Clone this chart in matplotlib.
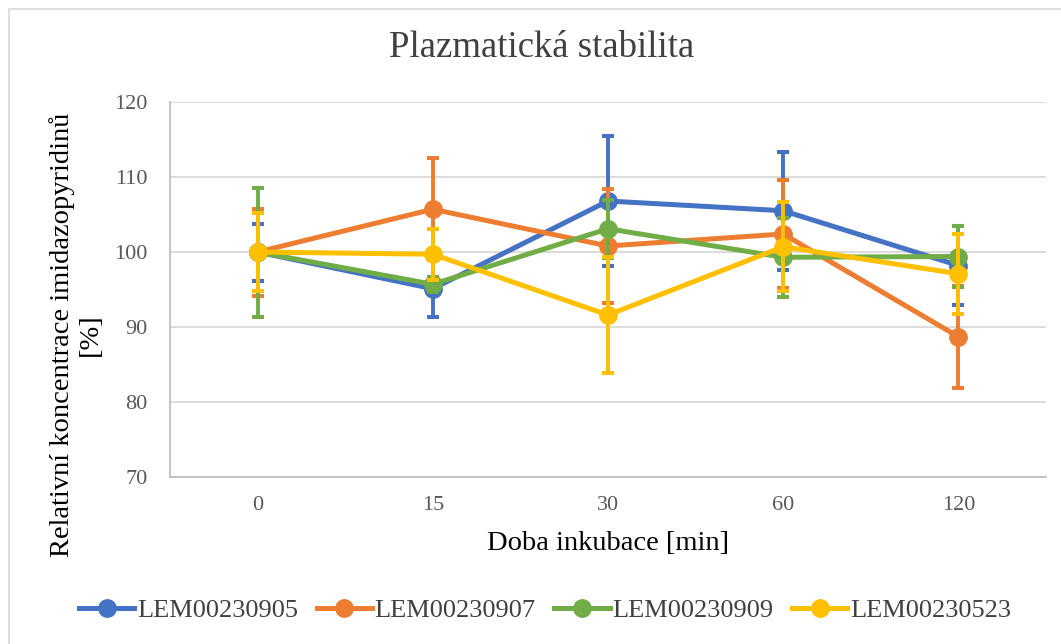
import matplotlib
matplotlib.use('Agg')
import matplotlib.pyplot as plt
from matplotlib.lines import Line2D
from matplotlib.patches import Rectangle
import numpy as np

categories = ['0', '15', '30', '60', '120']
series_names = ['LEM00230905', 'LEM00230907', 'LEM00230909', 'LEM00230523']
lem905 = [100, 95.1, 106.8, 105.5, 98.2]
lem905_err = [3.8, 3.8, 8.7, 7.9, 5.3]
lem907 = [100, 105.7, 100.8, 102.4, 88.7]
lem907_err = [5.8, 6.8, 7.6, 7.2, 6.8]
lem909 = [100, 95.7, 103.1, 99.3, 99.4]
lem909_err = [8.6, 1.0, 3.9, 5.3, 4.1]
lem523 = [100, 99.7, 91.6, 100.7, 97.1]
lem523_err = [5.2, 3.4, 7.7, 5.9, 5.3]
yticks = [70, 80, 90, 100, 110, 120]

values = [lem905, lem907, lem909, lem523]
errors = [lem905_err, lem907_err, lem909_err, lem523_err]
colors = ['#4472C4', '#ED7D31', '#70AD47', '#FFC000']

plt.rcParams['font.family'] = ['Liberation Serif', 'DejaVu Serif']

W, H = 1061, 644
fig = plt.figure(figsize=(W / 100, H / 100), dpi=100)
fig.patch.set_facecolor('white')

# chart-area border (top/left visible)
fig.patches.append(Rectangle((9 / W, -0.05), 1.2, 1 - 9 / H + 0.05, transform=fig.transFigure,
                             fill=False, edgecolor='#D9D9D9', linewidth=1.2))

ax = fig.add_axes([170 / W, 1 - 477 / H, (1046 - 170) / W, (477 - 102) / H])
x = np.arange(len(categories))

handles = []
for i, (vals, errs, col, name) in enumerate(zip(values, errors, colors, series_names)):
    ax.errorbar(x, vals, yerr=errs, fmt='none', ecolor=col, elinewidth=2.8,
                capsize=4.5, capthick=2.9, zorder=3 + i * 2)
    ax.plot(x, vals, '-o', color=col, lw=3.6, markersize=12.5, zorder=4 + i * 2)
    handles.append(Line2D([0], [0], color=col, lw=3.6, marker='o', markersize=12.5))

ax.set_xlim(-0.5, len(categories) - 0.5)
ax.set_ylim(70, 120)
ax.set_yticks(yticks)
ax.set_yticklabels([str(t) for t in yticks])
ax.set_xticks(x)
ax.set_xticklabels(categories)
ax.grid(axis='y', color='#D9D9D9', lw=1.3)
ax.set_axisbelow(True)
for s in ['top', 'right']:
    ax.spines[s].set_visible(False)
for s in ['left', 'bottom']:
    ax.spines[s].set_color('#BFBFBF')
    ax.spines[s].set_linewidth(1.3)
ax.tick_params(axis='both', length=0, labelsize=16, labelcolor='#595959')
ax.tick_params(axis='y', pad=16)
ax.tick_params(axis='x', pad=14)

fig.text(542 / W, 1 - 48 / H, 'Plazmatická stabilita', ha='center', va='center',
         fontsize=26.5, color='#404040')
fig.text(608 / W, 1 - 543 / H, 'Doba inkubace [min]', ha='center', va='center',
         fontsize=20.5, color='black')
fig.text(76 / W, 1 - 335 / H, 'Relativní koncentrace imidazopyridinů\n[%]', ha='center',
         va='center', rotation=90, fontsize=20.5, color='black', multialignment='center',
         linespacing=1.15)

fig.legend(handles, series_names, loc='center', bbox_to_anchor=(545 / W, 1 - 610 / H),
           ncol=4, frameon=False, fontsize=19, handlelength=2.1, handletextpad=0.1,
           columnspacing=0.7, labelcolor='#404040', borderpad=0, borderaxespad=0)

fig.savefig('out.png', dpi=100)
